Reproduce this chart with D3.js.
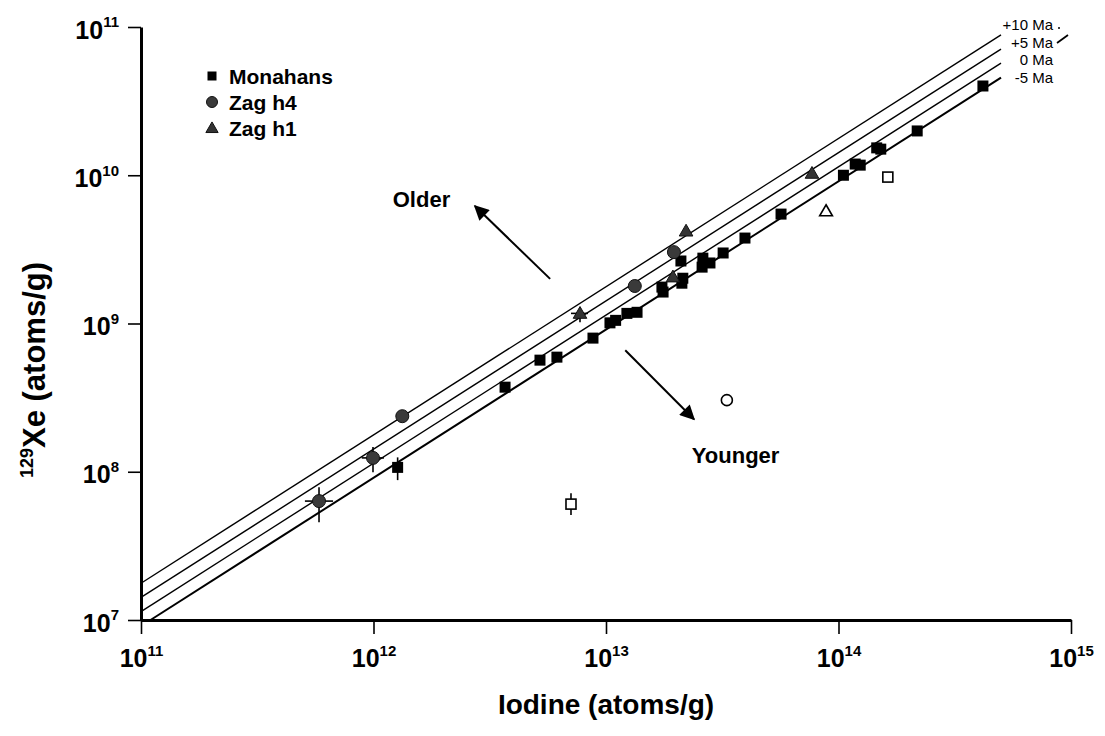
<!DOCTYPE html>
<html>
<head>
<meta charset="utf-8">
<script src="https://cdn.jsdelivr.net/npm/d3@7"></script>
<style>
body { margin:0; background:#fff; }
svg { font-family: "Liberation Sans", Arial, sans-serif; }
</style>
</head>
<body>
<svg id="svg" width="1105" height="736"></svg>
<script>
// isochron reference lines (129Xe / I ratio)
var isoLabels = ["+10 Ma", "+5 Ma", "0 Ma", "-5 Ma"];
var isoRatios = [1.77e-4, 1.42e-4, 1.14e-4, 9.1e-5];

// Monahans (filled squares)
var monI  = [1.27e12, 3.68e12, 5.20e12, 6.15e12, 8.79e12, 1.04e13, 1.10e13, 1.23e13, 1.36e13,
             1.74e13, 1.76e13, 2.10e13, 2.14e13, 2.12e13, 2.61e13, 2.59e13, 2.80e13, 3.19e13,
             3.96e13, 5.66e13, 1.05e14, 1.18e14, 1.24e14, 1.46e14, 1.52e14, 2.18e14, 4.18e14];
var monXe = [1.07e8, 3.72e8, 5.66e8, 5.93e8, 7.97e8, 1.01e9, 1.05e9, 1.17e9, 1.19e9,
             1.76e9, 1.63e9, 2.64e9, 2.02e9, 1.87e9, 2.76e9, 2.40e9, 2.56e9, 2.99e9,
             3.77e9, 5.47e9, 1.00e10, 1.19e10, 1.17e10, 1.53e10, 1.50e10, 1.99e10, 4.00e10];

// Zag h4 (filled circles)
var h4I  = [5.83e11, 9.95e11, 1.33e12, 1.33e13, 1.96e13];
var h4Xe = [6.34e7, 1.24e8, 2.37e8, 1.79e9, 3.03e9];

// Zag h1 (filled triangles)
var h1I  = [7.73e12, 1.94e13, 2.21e13, 7.69e13];
var h1Xe = [1.17e9, 2.06e9, 4.20e9, 1.03e10];

// open symbols
var openShape = ["square", "circle", "square", "triangle"];
var openI  = [7.07e12, 3.31e13, 1.63e14, 8.84e13];
var openXe = [6.05e7, 3.04e8, 9.72e9, 5.73e9];

// error bars
var errI    = [5.83e11, 9.95e11, 1.27e12, 7.73e12, 7.07e12];
var errXe   = [6.34e7, 1.24e8, 1.07e8, 1.17e9, 6.05e7];
var errIlo  = [5.07e11, 8.9e11, 1.27e12, 7.07e12, 7.07e12];
var errIhi  = [6.70e11, 1.11e12, 1.27e12, 8.37e12, 7.07e12];
var errXelo = [4.57e7, 9.94e7, 8.78e7, 1.02e9, 5.10e7];
var errXehi = [7.87e7, 1.47e8, 1.25e8, 1.29e9, 7.17e7];

var svg = d3.select("#svg");

var x = d3.scaleLog().domain([1e11, 1e15]).range([141, 1071]);
var y = d3.scaleLog().domain([1e7, 1e11]).range([620, 27]);

function supLabel(sel){
    sel.text(null).each(function(d){
        var t = d3.select(this);
        t.append("tspan").text("10");
        t.append("tspan").attr("dy", "-0.75em").attr("font-size", "0.6em")
            .text(Math.round(Math.log10(d)));
    });
}

// isochron lines
var isoData = isoRatios.map(function(r, i){
    var i0 = Math.max(1e11, 1e7 / r);
    return {r: r, i0: i0, i1: 5e14, label: isoLabels[i]};
});
svg.append("g").selectAll("line.iso")
    .data(isoData)
    .enter().append("line")
    .attr("class", "iso")
    .attr("x1", function(d){return x(d.i0);})
    .attr("y1", function(d){return y(d.i0 * d.r);})
    .attr("x2", function(d){return x(d.i1);})
    .attr("y2", function(d){return y(d.i1 * d.r);})
    .attr("stroke", "#000")
    .attr("stroke-width", function(d, i){return i == 3 ? 2 : 1.4;});

svg.append("g").selectAll("text.iso")
    .data(isoData)
    .enter().append("text")
    .attr("x", 1053)
    .attr("y", function(d, i){return 30 + i * 17.7;})
    .attr("text-anchor", "end")
    .attr("font-size", 15)
    .text(function(d){return d.label;});
svg.append("circle").attr("cx", 1059).attr("cy", 28).attr("r", 1).attr("fill", "#000");
svg.append("line").attr("x1", 1057).attr("y1", 43).attr("x2", 1068).attr("y2", 35)
    .attr("stroke", "#000").attr("stroke-width", 1.8);

// axes
var xAxis = d3.axisBottom(x).tickValues([1e11, 1e12, 1e13, 1e14, 1e15])
    .tickSize(14).tickSizeOuter(0);
var gx = svg.append("g").attr("transform", "translate(0,620)").call(xAxis);
gx.select(".domain").attr("stroke-width", 3);
gx.selectAll(".tick line").attr("stroke-width", 1.6);
gx.selectAll(".tick text")
    .attr("y", 47).attr("dy", 0)
    .attr("font-size", 25).attr("font-weight", "bold")
    .attr("font-family", "Liberation Sans, Arial, sans-serif")
    .attr("fill", "#000")
    .call(supLabel);

var yAxis = d3.axisLeft(y).tickValues([1e7, 1e8, 1e9, 1e10, 1e11])
    .tickSize(13).tickSizeOuter(0);
var gy = svg.append("g").attr("transform", "translate(141,0)").call(yAxis);
gy.select(".domain").attr("stroke-width", 3);
gy.selectAll(".tick line").attr("stroke-width", 1.6);
gy.selectAll(".tick text")
    .attr("x", -22).attr("dy", 11)
    .attr("font-size", 25).attr("font-weight", "bold")
    .attr("font-family", "Liberation Sans, Arial, sans-serif")
    .attr("fill", "#000")
    .call(supLabel);

// axis titles
svg.append("text")
    .attr("x", 606).attr("y", 714)
    .attr("text-anchor", "middle")
    .attr("font-size", 28).attr("font-weight", "bold")
    .text("Iodine (atoms/g)");

var yt = svg.append("text")
    .attr("transform", "translate(45,370) rotate(-90)")
    .attr("text-anchor", "middle")
    .attr("font-size", 31).attr("font-weight", "bold");
yt.append("tspan").attr("font-size", 18).attr("dy", -12).text("129");
yt.append("tspan").attr("dy", 12).text("Xe (atoms/g)");

// error bars
var errData = errI.map(function(v, i){
    return {i: v, xe: errXe[i], ilo: errIlo[i], ihi: errIhi[i], lo: errXelo[i], hi: errXehi[i]};
});
var eb = svg.append("g").attr("stroke", "#000").attr("stroke-width", 1.6);
eb.selectAll("line.ev")
    .data(errData)
    .enter().append("line")
    .attr("x1", function(d){return x(d.i);})
    .attr("x2", function(d){return x(d.i);})
    .attr("y1", function(d){return y(d.lo);})
    .attr("y2", function(d){return y(d.hi);});
eb.selectAll("line.eh")
    .data(errData.filter(function(d){return d.ilo != d.ihi;}))
    .enter().append("line")
    .attr("x1", function(d){return x(d.ilo);})
    .attr("x2", function(d){return x(d.ihi);})
    .attr("y1", function(d){return y(d.xe);})
    .attr("y2", function(d){return y(d.xe);});

// Monahans
svg.append("g").selectAll("rect.mon")
    .data(monI.map(function(v, i){return [v, monXe[i]];}))
    .enter().append("rect")
    .attr("x", function(d){return x(d[0]) - 5.5;})
    .attr("y", function(d){return y(d[1]) - 5.5;})
    .attr("width", 11).attr("height", 11)
    .attr("fill", "#000");

// Zag h4
svg.append("g").selectAll("circle.h4")
    .data(h4I.map(function(v, i){return [v, h4Xe[i]];}))
    .enter().append("circle")
    .attr("cx", function(d){return x(d[0]);})
    .attr("cy", function(d){return y(d[1]);})
    .attr("r", 6.5)
    .attr("fill", "#3a3a3a").attr("stroke", "#111").attr("stroke-width", 1);

// Zag h1
var tri = d3.symbol().type(d3.symbolTriangle).size(80);
svg.append("g").selectAll("path.h1")
    .data(h1I.map(function(v, i){return [v, h1Xe[i]];}))
    .enter().append("path")
    .attr("d", tri)
    .attr("transform", function(d){return "translate(" + x(d[0]) + "," + (y(d[1]) + 1) + ")";})
    .attr("fill", "#333").attr("stroke", "#111").attr("stroke-width", 1);

// open symbols
var og = svg.append("g").attr("fill", "#fff").attr("stroke", "#000").attr("stroke-width", 1.6);
openI.forEach(function(v, i){
    var px = x(v), py = y(openXe[i]);
    if(openShape[i] == "square"){
        og.append("rect").attr("x", px - 5).attr("y", py - 5).attr("width", 10).attr("height", 10);
    }else if(openShape[i] == "circle"){
        og.append("circle").attr("cx", px).attr("cy", py).attr("r", 5.5);
    }else{
        og.append("path").attr("d", d3.symbol().type(d3.symbolTriangle).size(70))
            .attr("transform", "translate(" + px + "," + (py + 1) + ")");
    }
});

// Older / Younger arrows
svg.append("defs").append("marker")
    .attr("id", "ah").attr("viewBox", "0 0 10 10")
    .attr("refX", 9).attr("refY", 5)
    .attr("markerWidth", 18).attr("markerHeight", 15)
    .attr("markerUnits", "userSpaceOnUse")
    .attr("orient", "auto")
    .append("path").attr("d", "M0,0 L10,5 L0,10 Z").attr("fill", "#000");

var arrows = [
    {i0: 5.75e12, xe0: 2.0e9, i1: 2.73e12, xe1: 6.2e9},
    {i0: 1.21e13, xe0: 6.6e8, i1: 2.39e13, xe1: 2.26e8}
];
svg.append("g").selectAll("line.arr")
    .data(arrows)
    .enter().append("line")
    .attr("x1", function(d){return x(d.i0);})
    .attr("y1", function(d){return y(d.xe0);})
    .attr("x2", function(d){return x(d.i1);})
    .attr("y2", function(d){return y(d.xe1);})
    .attr("stroke", "#000").attr("stroke-width", 2)
    .attr("marker-end", "url(#ah)");

svg.append("text").attr("x", x(1.21e12)).attr("y", y(6.1e9))
    .attr("font-size", 22).attr("font-weight", "bold").text("Older");
svg.append("text").attr("x", x(2.34e13)).attr("y", y(1.14e8))
    .attr("font-size", 22).attr("font-weight", "bold").text("Younger");

// legend
var legendNames = ["Monahans", "Zag h4", "Zag h1"];
var lg = svg.append("g");
lg.append("rect").attr("x", 207.5).attr("y", 71.5).attr("width", 9).attr("height", 9).attr("fill", "#000");
lg.append("circle").attr("cx", 212).attr("cy", 102).attr("r", 5.5).attr("fill", "#3a3a3a").attr("stroke", "#111");
lg.append("path").attr("d", d3.symbol().type(d3.symbolTriangle).size(65))
    .attr("transform", "translate(212,129)").attr("fill", "#333").attr("stroke", "#111");
lg.selectAll("text")
    .data(legendNames)
    .enter().append("text")
    .attr("x", 229)
    .attr("y", function(d, i){return 84 + i * 26;})
    .attr("font-size", 21).attr("font-weight", "bold")
    .text(function(d){return d;});
</script>
</body>
</html>
